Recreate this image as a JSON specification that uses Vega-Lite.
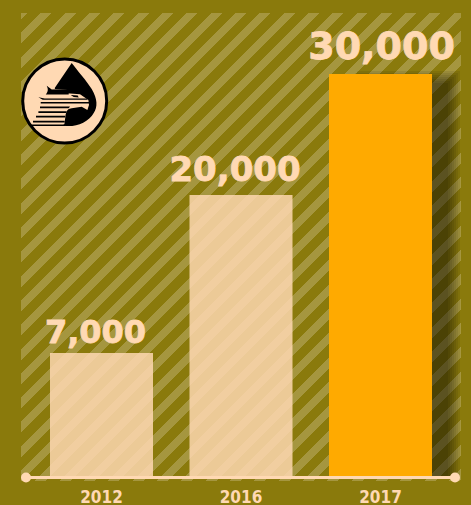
{"$schema":"https://vega.github.io/schema/vega-lite/v6.json","width":440,"height":468,"autosize":{"type":"none"},"padding":{"left":21,"top":13,"right":10,"bottom":24},"background":"#8a7a0c",
"view":{"stroke":null,"fill":{"gradient":"linear","x1":0,"y1":0,"x2":0.9682,"y2":1.0298,"stops":[{"offset":0,"color":"#a5963f"},{"offset":0.00705,"color":"#a5963f"},{"offset":0.00705,"color":"#8a7a0c"},{"offset":0.02173,"color":"#8a7a0c"},{"offset":0.02173,"color":"#a5963f"},{"offset":0.03384,"color":"#a5963f"},{"offset":0.03384,"color":"#8a7a0c"},{"offset":0.04853,"color":"#8a7a0c"},{"offset":0.04853,"color":"#a5963f"},{"offset":0.06064,"color":"#a5963f"},{"offset":0.06064,"color":"#8a7a0c"},{"offset":0.07532,"color":"#8a7a0c"},{"offset":0.07532,"color":"#a5963f"},{"offset":0.08743,"color":"#a5963f"},{"offset":0.08743,"color":"#8a7a0c"},{"offset":0.10212,"color":"#8a7a0c"},{"offset":0.10212,"color":"#a5963f"},{"offset":0.11423,"color":"#a5963f"},{"offset":0.11423,"color":"#8a7a0c"},{"offset":0.12891,"color":"#8a7a0c"},{"offset":0.12891,"color":"#a5963f"},{"offset":0.14102,"color":"#a5963f"},{"offset":0.14102,"color":"#8a7a0c"},{"offset":0.15571,"color":"#8a7a0c"},{"offset":0.15571,"color":"#a5963f"},{"offset":0.16782,"color":"#a5963f"},{"offset":0.16782,"color":"#8a7a0c"},{"offset":0.1825,"color":"#8a7a0c"},{"offset":0.1825,"color":"#a5963f"},{"offset":0.19461,"color":"#a5963f"},{"offset":0.19461,"color":"#8a7a0c"},{"offset":0.2093,"color":"#8a7a0c"},{"offset":0.2093,"color":"#a5963f"},{"offset":0.22141,"color":"#a5963f"},{"offset":0.22141,"color":"#8a7a0c"},{"offset":0.23609,"color":"#8a7a0c"},{"offset":0.23609,"color":"#a5963f"},{"offset":0.2482,"color":"#a5963f"},{"offset":0.2482,"color":"#8a7a0c"},{"offset":0.26289,"color":"#8a7a0c"},{"offset":0.26289,"color":"#a5963f"},{"offset":0.275,"color":"#a5963f"},{"offset":0.275,"color":"#8a7a0c"},{"offset":0.28968,"color":"#8a7a0c"},{"offset":0.28968,"color":"#a5963f"},{"offset":0.30179,"color":"#a5963f"},{"offset":0.30179,"color":"#8a7a0c"},{"offset":0.31648,"color":"#8a7a0c"},{"offset":0.31648,"color":"#a5963f"},{"offset":0.32859,"color":"#a5963f"},{"offset":0.32859,"color":"#8a7a0c"},{"offset":0.34327,"color":"#8a7a0c"},{"offset":0.34327,"color":"#a5963f"},{"offset":0.35538,"color":"#a5963f"},{"offset":0.35538,"color":"#8a7a0c"},{"offset":0.37007,"color":"#8a7a0c"},{"offset":0.37007,"color":"#a5963f"},{"offset":0.38218,"color":"#a5963f"},{"offset":0.38218,"color":"#8a7a0c"},{"offset":0.39686,"color":"#8a7a0c"},{"offset":0.39686,"color":"#a5963f"},{"offset":0.40897,"color":"#a5963f"},{"offset":0.40897,"color":"#8a7a0c"},{"offset":0.42366,"color":"#8a7a0c"},{"offset":0.42366,"color":"#a5963f"},{"offset":0.43577,"color":"#a5963f"},{"offset":0.43577,"color":"#8a7a0c"},{"offset":0.45045,"color":"#8a7a0c"},{"offset":0.45045,"color":"#a5963f"},{"offset":0.46256,"color":"#a5963f"},{"offset":0.46256,"color":"#8a7a0c"},{"offset":0.47725,"color":"#8a7a0c"},{"offset":0.47725,"color":"#a5963f"},{"offset":0.48936,"color":"#a5963f"},{"offset":0.48936,"color":"#8a7a0c"},{"offset":0.50404,"color":"#8a7a0c"},{"offset":0.50404,"color":"#a5963f"},{"offset":0.51615,"color":"#a5963f"},{"offset":0.51615,"color":"#8a7a0c"},{"offset":0.53084,"color":"#8a7a0c"},{"offset":0.53084,"color":"#a5963f"},{"offset":0.54295,"color":"#a5963f"},{"offset":0.54295,"color":"#8a7a0c"},{"offset":0.55763,"color":"#8a7a0c"},{"offset":0.55763,"color":"#a5963f"},{"offset":0.56974,"color":"#a5963f"},{"offset":0.56974,"color":"#8a7a0c"},{"offset":0.58443,"color":"#8a7a0c"},{"offset":0.58443,"color":"#a5963f"},{"offset":0.59654,"color":"#a5963f"},{"offset":0.59654,"color":"#8a7a0c"},{"offset":0.61122,"color":"#8a7a0c"},{"offset":0.61122,"color":"#a5963f"},{"offset":0.62333,"color":"#a5963f"},{"offset":0.62333,"color":"#8a7a0c"},{"offset":0.63802,"color":"#8a7a0c"},{"offset":0.63802,"color":"#a5963f"},{"offset":0.65013,"color":"#a5963f"},{"offset":0.65013,"color":"#8a7a0c"},{"offset":0.66481,"color":"#8a7a0c"},{"offset":0.66481,"color":"#a5963f"},{"offset":0.67692,"color":"#a5963f"},{"offset":0.67692,"color":"#8a7a0c"},{"offset":0.69161,"color":"#8a7a0c"},{"offset":0.69161,"color":"#a5963f"},{"offset":0.70372,"color":"#a5963f"},{"offset":0.70372,"color":"#8a7a0c"},{"offset":0.7184,"color":"#8a7a0c"},{"offset":0.7184,"color":"#a5963f"},{"offset":0.73051,"color":"#a5963f"},{"offset":0.73051,"color":"#8a7a0c"},{"offset":0.7452,"color":"#8a7a0c"},{"offset":0.7452,"color":"#a5963f"},{"offset":0.75731,"color":"#a5963f"},{"offset":0.75731,"color":"#8a7a0c"},{"offset":0.77199,"color":"#8a7a0c"},{"offset":0.77199,"color":"#a5963f"},{"offset":0.7841,"color":"#a5963f"},{"offset":0.7841,"color":"#8a7a0c"},{"offset":0.79879,"color":"#8a7a0c"},{"offset":0.79879,"color":"#a5963f"},{"offset":0.8109,"color":"#a5963f"},{"offset":0.8109,"color":"#8a7a0c"},{"offset":0.82558,"color":"#8a7a0c"},{"offset":0.82558,"color":"#a5963f"},{"offset":0.83769,"color":"#a5963f"},{"offset":0.83769,"color":"#8a7a0c"},{"offset":0.85238,"color":"#8a7a0c"},{"offset":0.85238,"color":"#a5963f"},{"offset":0.86449,"color":"#a5963f"},{"offset":0.86449,"color":"#8a7a0c"},{"offset":0.87917,"color":"#8a7a0c"},{"offset":0.87917,"color":"#a5963f"},{"offset":0.89128,"color":"#a5963f"},{"offset":0.89128,"color":"#8a7a0c"},{"offset":0.90597,"color":"#8a7a0c"},{"offset":0.90597,"color":"#a5963f"},{"offset":0.91808,"color":"#a5963f"},{"offset":0.91808,"color":"#8a7a0c"},{"offset":0.93276,"color":"#8a7a0c"},{"offset":0.93276,"color":"#a5963f"},{"offset":0.94487,"color":"#a5963f"},{"offset":0.94487,"color":"#8a7a0c"},{"offset":0.95956,"color":"#8a7a0c"},{"offset":0.95956,"color":"#a5963f"},{"offset":0.97167,"color":"#a5963f"},{"offset":0.97167,"color":"#8a7a0c"},{"offset":0.98635,"color":"#8a7a0c"},{"offset":0.98635,"color":"#a5963f"},{"offset":0.99846,"color":"#a5963f"},{"offset":0.99846,"color":"#8a7a0c"},{"offset":1,"color":"#8a7a0c"}]}},
"datasets":{"bars":[{"year":"2012","value":7000},{"year":"2016","value":20000},{"year":"2017","value":30000}],"base":[{"year":"2012","value":0}],"baseEnd":[{"year":"2017","value":0}],"logo":[{"year":"2012","value":27769}]},
"data":{"name":"bars"},
"encoding":{
"x":{"field":"year","type":"nominal","title":null,"scale":{"type":"band","domain":["2012","2016","2017"],"range":[10.75,429.25],"paddingInner":0.262,"paddingOuter":0.131},"axis":{"domain":false,"ticks":false,"labelAngle":0,"labelColor":"#ffd9b3","labelFont":"DejaVu Sans Condensed","labelFontWeight":"bold","labelFontSize":17,"labelPadding":8,"grid":false}},
"y":{"field":"value","type":"quantitative","stack":null,"title":null,"scale":{"domain":[0,7000,20000,30000],"range":[464,340,182,61]},"axis":null}},
"layer":[
{"transform":[{"filter":"datum.year==='2017'"}],"mark":{"type":"bar","size":103,"xOffset":28,"yOffset":-3,"y2Offset":0,"color":"#000","opacity":0.08}},
{"transform":[{"filter":"datum.year==='2017'"}],"mark":{"type":"bar","size":103,"xOffset":26,"yOffset":-1,"y2Offset":0,"color":"#000","opacity":0.08}},
{"transform":[{"filter":"datum.year==='2017'"}],"mark":{"type":"bar","size":103,"xOffset":24,"yOffset":1,"y2Offset":0,"color":"#000","opacity":0.08}},
{"transform":[{"filter":"datum.year==='2017'"}],"mark":{"type":"bar","size":103,"xOffset":22,"yOffset":3,"y2Offset":0,"color":"#000","opacity":0.08}},
{"transform":[{"filter":"datum.year==='2017'"}],"mark":{"type":"bar","size":103,"xOffset":20,"yOffset":5,"y2Offset":0,"color":"#000","opacity":0.08}},
{"transform":[{"filter":"datum.year==='2017'"}],"mark":{"type":"bar","size":103,"xOffset":18,"yOffset":7,"y2Offset":0,"color":"#000","opacity":0.08}},
{"transform":[{"filter":"datum.year==='2017'"}],"mark":{"type":"bar","size":103,"xOffset":16,"yOffset":9,"y2Offset":0,"color":"#000","opacity":0.08}},
{"transform":[{"filter":"datum.year!=='2017'"}],"mark":{"type":"bar","size":103,"color":"#ffd9b3","opacity":0.84}},
{"transform":[{"filter":"datum.year==='2017'"}],"mark":{"type":"bar","size":103,"color":"#ffaa00","opacity":1}},
{"data":{"name":"base"},"mark":{"type":"rule","color":"#ffd9b3","strokeWidth":3,"xOffset":-75.5,"x2Offset":74.5,"yOffset":0.5},"encoding":{"x2":{"datum":"2017"}}},
{"data":{"name":"base"},"mark":{"type":"point","filled":true,"shape":"circle","size":100,"opacity":1,"color":"#ffd9b3","xOffset":-75.5,"yOffset":0.5}},
{"data":{"name":"baseEnd"},"mark":{"type":"point","filled":true,"shape":"circle","size":100,"opacity":1,"color":"#ffd9b3","xOffset":74.5,"yOffset":0.5}},
{"transform":[{"filter":"datum.year==='2012'"}],"mark":{"type":"text","font":"DejaVu Sans","fontWeight":"bold","fontSize":32,"color":"#ffd9b3","stroke":"#ffd9b3","strokeWidth":0.8,"dx":-6,"dy":-10,"baseline":"alphabetic","align":"center"},"encoding":{"text":{"field":"value","format":","}}},
{"transform":[{"filter":"datum.year==='2016'"}],"mark":{"type":"text","font":"DejaVu Sans","fontWeight":"bold","fontSize":34,"color":"#ffd9b3","stroke":"#ffd9b3","strokeWidth":0.8,"dx":-6,"dy":-14,"baseline":"alphabetic","align":"center"},"encoding":{"text":{"field":"value","format":","}}},
{"transform":[{"filter":"datum.year==='2017'"}],"mark":{"type":"text","font":"DejaVu Sans","fontWeight":"bold","fontSize":38,"color":"#ffd9b3","stroke":"#ffd9b3","strokeWidth":0.8,"dx":1,"dy":-15,"baseline":"alphabetic","align":"center"},"encoding":{"text":{"field":"value","format":","}}},
{"data":{"name":"logo"},"mark":{"type":"point","filled":true,"shape":"circle","size":7056,"opacity":1,"fill":"#ffd9b3","stroke":"#000","strokeWidth":3,"xOffset":-36.8}},
{"data":{"name":"logo"},"mark":{"type":"point","filled":true,"shape":"M7,-38 C13,-30 22,-20 27,-12 C33,-2 33,6 29,12 C24,21 12,26 1,25 C-2,24 -2,21 -1,18 L-10,-13 Z","size":4,"opacity":1,"color":"#000","xOffset":-36.8}},
{"data":{"name":"logo"},"mark":{"type":"point","filled":true,"shape":"M-30,25 L-0.3,23.3 L1,13.3 C2,9 4,7.5 7,7.3 L17,5.7 L22.7,9 L24.3,4 L23.7,-1 L15.3,-6.7 L2,-7.7 L2,-12 L-13,-12 L-18,-16 L-24,-16 L-30,-6 Z","size":4,"opacity":1,"color":"#ffd9b3","xOffset":-36.8}},
{"data":{"name":"logo"},"mark":{"type":"point","filled":true,"shape":"M-18,-15.3 L-13,-11.5 L4,-12 L4,-6.5 L-19,-6.5 C-17,-9 -16,-11 -18,-15.3 Z M6,-6 L13,-5.5 L14,-3.5 L9,-4 Z M-26.3,-3.8 L-20,-2.5 L22,-2.5 L23,-1.2 L-22,-1.2 Z M-24,1 L24.5,1 L24.5,2.6 L-24,2.6 Z M-24.7,5.5 L5.3,5.5 L4,7.2 L-24.7,7.2 Z M-26.3,10.3 L2,10.3 L1.5,12 L-26.3,12 Z M-28.7,14.7 L0.6,14.7 L0.5,16.4 L-28.7,16.4 Z M-31.7,19.7 L0,19.7 L0,21.4 L-31.7,21.4 Z M-33,23.5 L1,23.5 L1,25 L-33,25 Z","size":4,"opacity":1,"color":"#000","xOffset":-36.8}}
]}
